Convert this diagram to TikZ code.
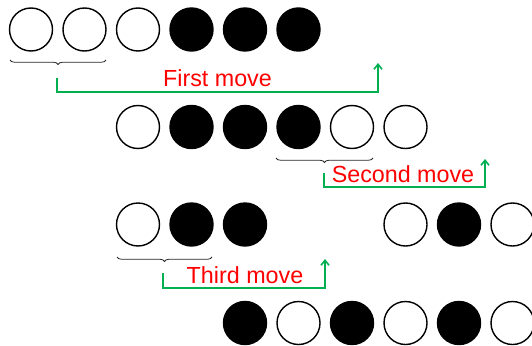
\documentclass[tikz,border=0pt]{standalone}
\usepackage{fontspec}
\setmainfont{Liberation Sans}
\usetikzlibrary{arrows.meta,decorations.pathreplacing}
\definecolor{mvgreen}{RGB}{0,176,80}
\definecolor{mvred}{RGB}{255,0,0}
\tikzset{
  wball/.style={circle,draw=black,line width=1.4pt,fill=white,minimum size=43pt,inner sep=0pt},
  bball/.style={circle,draw=black,line width=1.4pt,fill=black,minimum size=43pt,inner sep=0pt},
  grp/.style={decorate,decoration={brace,mirror,amplitude=4.5pt,aspect=0.5},draw=black!85,line width=0.8pt},
  mvarrow/.style={draw=mvgreen,line width=1.6pt,-{Straight Barb[length=5pt,width=8pt]}},
  mvlabel/.style={text=mvred,font=\fontsize{23.3}{26}\selectfont,inner sep=0pt}
}
\begin{document}
\begin{tikzpicture}[x=1pt,y=-1pt]
\useasboundingbox (0,0) rectangle (532,345);
% row 1
\node[wball] (a1) at (31,29.5) {};
\node[wball] (a2) at (84.5,29.5) {};
\node[wball] (a3) at (138,29.5) {};
\node[bball] (a4) at (191.5,29.5) {};
\node[bball] (a5) at (245,29.5) {};
\node[bball] (a6) at (298.5,29.5) {};
% row 2
\node[wball] (b1) at (138,127) {};
\node[bball] (b2) at (191.5,127) {};
\node[bball] (b3) at (245,127) {};
\node[bball] (b4) at (298.5,127) {};
\node[wball] (b5) at (352,127) {};
\node[wball] (b6) at (405.5,127) {};
% row 3
\node[wball] (c1) at (138,224.5) {};
\node[bball] (c2) at (191.5,224.5) {};
\node[bball] (c3) at (245,224.5) {};
\node[wball] (c4) at (405.5,224.5) {};
\node[bball] (c5) at (459,224.5) {};
\node[wball] (c6) at (512.5,224.5) {};
% row 4
\node[bball] (d1) at (245,323) {};
\node[wball] (d2) at (298.5,323) {};
\node[bball] (d3) at (352,323) {};
\node[wball] (d4) at (405.5,323) {};
\node[bball] (d5) at (459,323) {};
\node[wball] (d6) at (512.5,323) {};
% braces
\coordinate (g1s) at (10,60);  \coordinate (g1e) at (106,60);
\coordinate (g2s) at (276,158); \coordinate (g2e) at (373,158);
\coordinate (g3s) at (117,257); \coordinate (g3e) at (212,257);
\draw[grp] (g1s) -- (g1e);
\draw[grp] (g2s) -- (g2e);
\draw[grp] (g3s) -- (g3e);
% moves
\coordinate (m1s) at (57,78);  \coordinate (m1e) at (378,63);
\coordinate (m2s) at (324,173); \coordinate (m2e) at (485,159);
\coordinate (m3s) at (163,273); \coordinate (m3e) at (325,259);
\draw[mvarrow] (m1s) -- (57,92) -| (m1e);
\draw[mvarrow] (m2s) -- (324,187) -| (m2e);
\draw[mvarrow] (m3s) -- (163,288) -| (m3e);
\node[mvlabel] (l1) at (217.5,78.5) {First move};
\node[mvlabel] (l2) at (403,174) {Second move};
\node[mvlabel] (l3) at (245,275) {Third move};
\end{tikzpicture}
\end{document}
